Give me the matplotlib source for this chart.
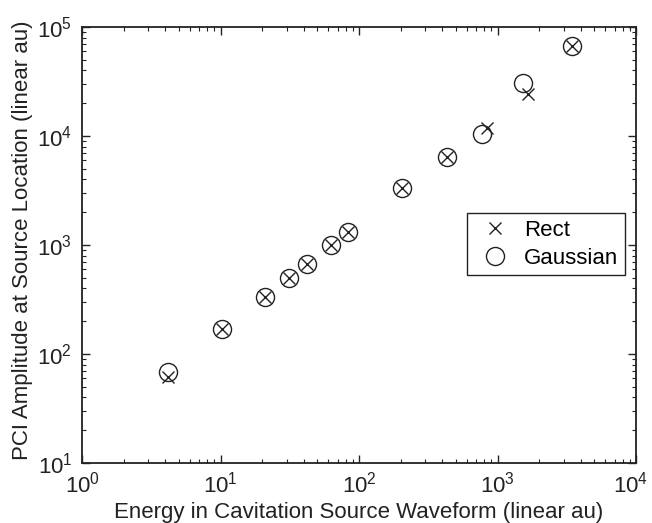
import numpy as np
import matplotlib.pyplot as plt
import matplotlib.transforms as mtransforms

plt.rcParams['font.family'] = ['Liberation Sans', 'DejaVu Sans']
plt.rcParams['mathtext.fontset'] = 'custom'
plt.rcParams['mathtext.rm'] = 'Liberation Sans'

# data
rect_energy = [4.2, 10.3, 20.8, 31.2, 41.9, 62.5, 82.9, 203, 434, 836, 1668, 3435]
rect_amp = [61, 169, 336, 501, 669, 1000, 1325, 3313, 6460, 11770, 24290, 66900]
gauss_energy = [4.2, 10.3, 20.8, 31.2, 41.9, 62.5, 82.9, 203, 434, 769, 1521, 3435]
gauss_amp = [68, 169, 336, 501, 669, 1000, 1325, 3313, 6460, 10430, 30430, 66900]

fig = plt.figure(figsize=(6.52, 5.23), dpi=100)
ax = fig.add_axes([0.1258, 0.1147, 0.8497, 0.8337])

ax.loglog(rect_energy, rect_amp, linestyle='none', marker='x',
          markersize=9, markeredgewidth=1.0, color='#222222', label='Rect')
ax.loglog(gauss_energy, gauss_amp, linestyle='none', marker='o',
          markersize=13, markeredgewidth=1.0, markerfacecolor='none',
          color='#222222', label='Gaussian')

ax.set_xlim(1, 1e4)
ax.set_ylim(10, 1e5)
ax.set_xticks([1, 10, 100, 1000, 10000])

ax.tick_params(which='both', direction='in', top=True, right=True,
               labelsize=16, colors='#222222')
ax.tick_params(which='major', length=6, width=1)
ax.tick_params(which='minor', length=3, width=0.8)
ax.tick_params(axis='x', pad=6)
ax.tick_params(axis='y', pad=7)
for s in ax.spines.values():
    s.set_linewidth(1.3)
    s.set_color('#222222')

# keep the last x label inside the figure
last = ax.xaxis.get_major_ticks()[-1].label1
last.set_transform(last.get_transform() +
                   mtransforms.ScaledTranslation(-4 / 72, 0, fig.dpi_scale_trans))

ax.set_xlabel('Energy in Cavitation Source Waveform (linear au)',
              fontsize=16, color='#222222', va='baseline')
ax.xaxis.set_label_coords(0.5, -0.126)
ax.set_ylabel('PCI Amplitude at Source Location (linear au)',
              fontsize=16, color='#222222', va='center')
ax.yaxis.set_label_coords(-0.107, 0.51)

leg = ax.legend(loc='upper left', bbox_to_anchor=(0.694, 0.573),
                fontsize=16, fancybox=False, framealpha=1,
                edgecolor='#222222', borderpad=0.3, handletextpad=0.3,
                labelspacing=0.3, borderaxespad=0)
leg.get_frame().set_linewidth(1.0)

fig.savefig('out.png', dpi=100)
